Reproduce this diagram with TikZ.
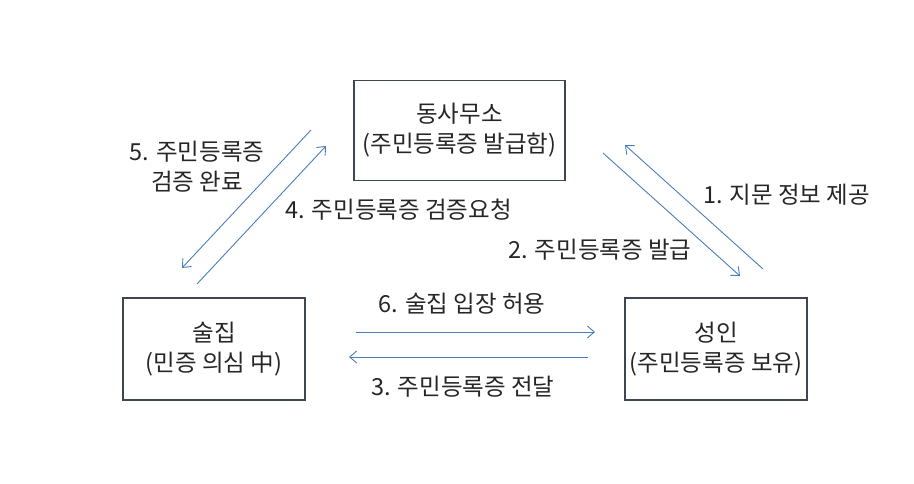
\documentclass[tikz,border=0pt]{standalone}
\usepackage{fontspec}
\setmainfont{Noto Sans CJK KR}
\usetikzlibrary{arrows.meta}
\definecolor{boxline}{RGB}{62,70,84}
\definecolor{arrowblue}{RGB}{74,126,187}
\definecolor{txt}{RGB}{38,38,38}
\tikzset{
  box/.style={draw=boxline, line width=1.3pt, inner sep=0pt},
  flow/.style={draw=arrowblue, line width=0.9pt, -{Straight Barb[length=7pt,width=12pt,line width=0.9pt]}},
  lbl/.style={text=txt, font=\fontsize{23.5}{30}\selectfont, inner sep=0pt, align=center},
}
\begin{document}
\begin{tikzpicture}[x=1pt,y=-1pt]
\useasboundingbox (0,0) rectangle (914,484);
% boxes
\node[box, minimum width=211pt, minimum height=100pt] (office) at (459.5,130.5) {};
\node[box, minimum width=182pt, minimum height=102pt] (bar) at (214,349) {};
\node[box, minimum width=182pt, minimum height=102pt] (adult) at (716,349) {};
\node[lbl] (officet) at (office.center) {동사무소\\(주민등록증 발급함)};
\node[lbl] (bart) at (bar.center) {술집\\(민증 의심 中)};
\node[lbl] (adultt) at (adult.center) {성인\\(주민등록증 보유)};
% connector end points
\coordinate (a5s) at (311,130); \coordinate (a5e) at (182,268);
\coordinate (a4s) at (197,284); \coordinate (a4e) at (326,146);
\coordinate (a2s) at (603,153); \coordinate (a2e) at (740,276);
\coordinate (a1s) at (763,269); \coordinate (a1e) at (625,145);
\coordinate (a6s) at (356,332); \coordinate (a6e) at (595,332);
\coordinate (a3s) at (588,357); \coordinate (a3e) at (349,357);
\draw[flow] (a5s) -- (a5e);
\draw[flow] (a4s) -- (a4e);
\draw[flow] (a2s) -- (a2e);
\draw[flow] (a1s) -- (a1e);
\draw[flow] (a6s) -- (a6e);
\draw[flow] (a3s) -- (a3e);
% labels
\node[lbl] (l5) at (197,167) {5. 주민등록증\\검증 완료};
\node[lbl, anchor=west] (l4) at (285,210) {4. 주민등록증 검증요청};
\node[lbl, anchor=west] (l1) at (703,195) {1. 지문 정보 제공};
\node[lbl, anchor=west] (l2) at (508,250) {2. 주민등록증 발급};
\node[lbl] (l6) at (462,304) {6. 술집 입장 허용};
\node[lbl] (l3) at (463,387) {3. 주민등록증 전달};
\end{tikzpicture}
\end{document}
